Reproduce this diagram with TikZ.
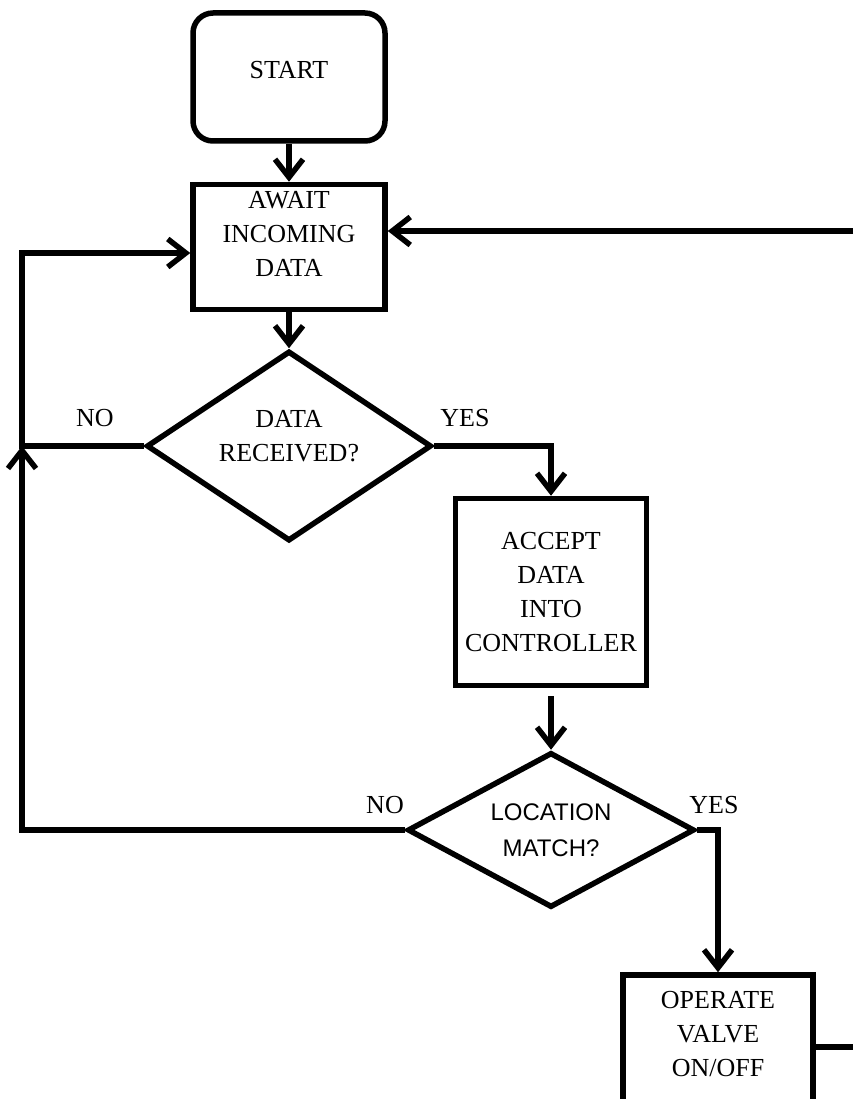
\documentclass[tikz,border=0pt]{standalone}
\usepackage{fontspec}
\setmainfont{Liberation Serif}
\newfontfamily\arialfont{Liberation Sans}
\usetikzlibrary{shapes.geometric,arrows.meta}
\begin{document}
\begin{tikzpicture}[x=1pt, y=-1pt, line width=5.5pt,
  every node/.style={font=\fontsize{26}{34}\selectfont},
  box/.style={draw, rectangle, minimum width=189pt, align=center, inner sep=0pt},
  decision/.style={draw, diamond, aspect=1.8, align=center, inner sep=0pt},
  arr/.style={-{Straight Barb[length=18pt,width=28pt]}}]
  \useasboundingbox (0,0) rectangle (853,1099);
  \clip (0,0) rectangle (853,1099);
  \node[box, rounded corners=20pt, minimum width=192pt, minimum height=128pt, text depth=14pt] (start) at (289,77) {START};
  \node[box, minimum width=192pt, minimum height=125pt, text depth=26pt] (await) at (289,247) {AWAIT\\INCOMING\\DATA};
  \node[decision, minimum width=285pt, minimum height=190pt, text depth=20pt] (dec1) at (289,446) {DATA\\RECEIVED?};
  \node[box, minimum width=191pt, minimum height=187pt] (accept) at (551,592) {ACCEPT\\DATA\\INTO\\CONTROLLER};
  \node[decision, minimum width=287pt, minimum height=155pt, font=\arialfont\fontsize{24}{36}\selectfont] (dec2) at (551,830) {LOCATION\\MATCH?};
  \node[box, minimum width=190pt, minimum height=250pt, text depth=132pt] (operate) at (718,1100) {OPERATE\\VALVE\\ON/OFF};
  \node (no1) at (95,418) {NO};
  \node (yes1) at (465,418) {YES};
  \node (no2) at (385,805) {NO};
  \node (yes2) at (714,805) {YES};
  \coordinate (looptop) at (22,253);
  \coordinate (loopmid) at (22,446);
  \coordinate (feedin) at (853,231);
  \coordinate (valveout) at (853,1047);
  \draw[arr] (start) -- (await);
  \draw[arr] (await) -- (dec1);
  \draw[arr] (dec1.east) -| (accept.north);
  \draw[arr, shorten <=8pt] (accept) -- (dec2);
  \draw[arr] (dec2.east) -| (operate.north);
  \draw[arr] (dec1.west) -| (looptop) -- (looptop -| await.west);
  \draw[arr] (dec2.west) -| (loopmid);
  \draw[arr] (feedin) -- (feedin -| await.east);
  \draw (operate.east |- valveout) -- (valveout);
\end{tikzpicture}
\end{document}
